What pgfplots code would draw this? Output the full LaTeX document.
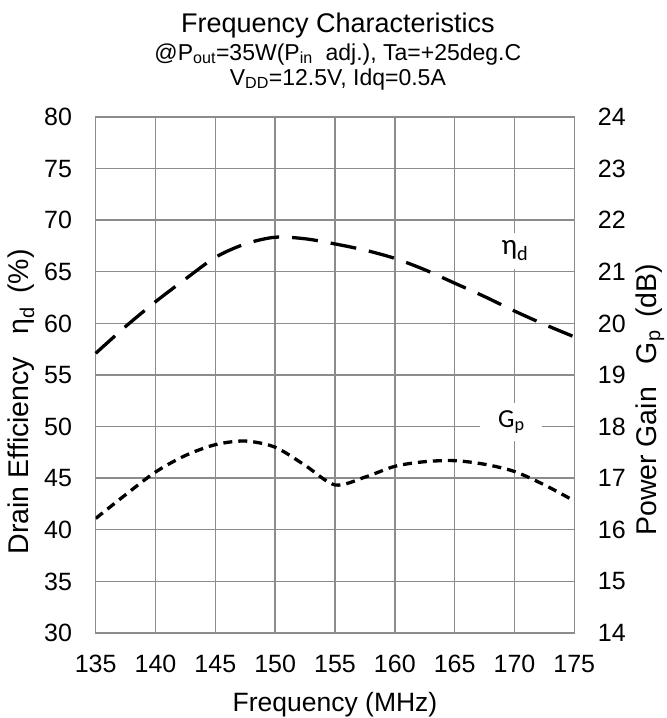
\documentclass[border=0pt]{standalone}
\usepackage{fontspec}
\setmainfont{Liberation Sans}
\newfontfamily\carlito{Carlito}
\usepackage{pgfplots}
\pgfplotsset{compat=1.18}
\definecolor{gridgray}{RGB}{140,140,140}
\newcommand\fs[1]{\fontsize{#1}{#1}\selectfont}
\begin{document}
\begin{tikzpicture}
\path[use as bounding box] (-95.7pt,-85pt) rectangle (571.3pt,633pt);
\begin{axis}[
  scale only axis, width=478.6pt, height=516pt,
  xmin=135, xmax=175, ymin=30, ymax=80,
  xtick={135,140,...,175}, ytick={30,35,...,80},
  grid=major, grid style={gridgray, line width=1.4pt},
  axis line style={gridgray, line width=1.4pt},
  major tick length=0pt,
  /pgf/number format/assume math mode=true,
  ticklabel style={font=\fs{25}, inner sep=0pt},
  yticklabel style={xshift=-23.5pt},
  xticklabel style={yshift=-22pt},
  xlabel={Frequency (MHz)},
  xlabel style={font=\fs{26.5}, at={(axis description cs:0.5,0)}, anchor=base, yshift=-78.5pt},
  ylabel={Drain Efficiency\hspace{0.8em}η\textsubscript{d}\hspace{0.45em}(\%)},
  ylabel style={font=\fs{28.5}, at={(axis description cs:-0.156,0.448)}, anchor=center},
  clip=false,
]
\addplot[black, line width=3.3pt, dash pattern=on 26pt off 13pt, smooth] coordinates {
(135,57.1) (137.5,59.7) (140,62.1) (142.5,64.3) (145,66.4) (147.5,67.7) (150,68.35)
(152.5,68.2) (155,67.7) (157.5,67.1) (160,66.3) (162.5,65.2) (165,63.9) (167.5,62.6)
(170,61.2) (172.5,59.9) (175,58.7)};
\node[fill=white, minimum width=62pt, minimum height=36pt, inner sep=0pt, font=\carlito\fs{29}] at (axis cs:170.04,67.06) {η\textsubscript{d}};
\node[fill=white, minimum width=62pt, minimum height=38pt, inner sep=0pt, font=\carlito\fs{26}] at (axis cs:169.74,50.45) {G\textsubscript{p}};
\node[font=\fs{27}, anchor=base] at (axis description cs:0.506,1.163) {Frequency Characteristics};
\node[font=\fs{23}, anchor=base] at (axis description cs:0.506,1.110) {@P\textsubscript{out}=35W(P\textsubscript{in}\ \ adj.), Ta=+25deg.C};
\node[font=\fs{23}, anchor=base] at (axis description cs:0.506,1.062) {V\textsubscript{DD}=12.5V, Idq=0.5A};
\end{axis}
\begin{axis}[
  scale only axis, width=478.6pt, height=516pt,
  xmin=135, xmax=175, ymin=14, ymax=24,
  ytick={14,15,...,24},
  axis x line=none, axis y line*=right,
  axis line style={gridgray, line width=1.4pt},
  major tick length=0pt,
  /pgf/number format/assume math mode=true,
  ticklabel style={font=\fs{25}, inner sep=0pt},
  yticklabel style={xshift=23.5pt},
  ylabel={Power Gain\hspace{0.8em}G\textsubscript{p}\hspace{0.45em}(dB)},
  ylabel style={font=\fs{28.5}, at={(axis description cs:1.158,0.452)}, anchor=center},
]
\addplot[black, line width=3.3pt, dash pattern=on 9pt off 6pt, smooth] coordinates {
(135,16.22) (137.5,16.68) (140,17.12) (142.5,17.44) (145,17.65) (147.5,17.72)
(150,17.60) (152.5,17.25) (155,16.87) (157.5,17.02) (160,17.23) (162.5,17.32)
(165,17.34) (167.5,17.27) (170,17.13) (172.5,16.87) (175,16.56)};
\end{axis}
\end{tikzpicture}
\end{document}
